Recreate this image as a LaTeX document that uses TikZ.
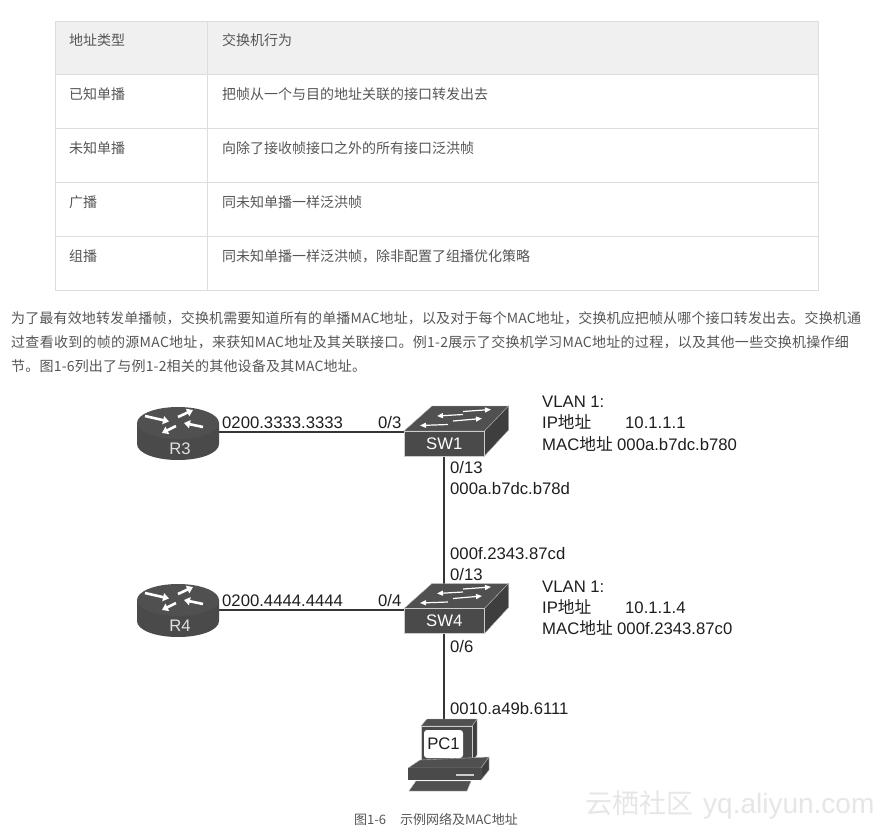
\documentclass[tikz,border=0pt]{standalone}
\usepackage{fontspec}
\setmainfont{Liberation Sans}
\newfontfamily\cjk{Noto Sans CJK SC}
\newfontfamily\cjka[LetterSpace=1.0]{Noto Sans CJK SC}
\newfontfamily\cjkb[LetterSpace=2.0]{Noto Sans CJK SC}
\newfontfamily\cjkc[LetterSpace=1.4]{Noto Sans CJK SC}
\usetikzlibrary{arrows.meta,backgrounds}
\definecolor{devdark}{HTML}{4A4A4A}
\definecolor{devtop}{HTML}{505050}
\definecolor{devside}{HTML}{3E3E3E}
\definecolor{bodytext}{HTML}{555555}
\definecolor{rulegray}{HTML}{DDDDDD}
\definecolor{headfill}{HTML}{F0F0F0}
\definecolor{ink}{HTML}{1E1E1E}
\definecolor{markgray}{HTML}{E6E6E6}
\tikzset{
  cell/.style={anchor=base west,inner sep=0pt,text=bodytext,font=\cjk\fontsize{14}{14}\selectfont},
  para/.style={anchor=base west,inner sep=0pt,text=bodytext,font=\fontsize{14}{14}\selectfont},
  capt/.style={anchor=base west,inner sep=0pt,text=bodytext,font=\cjk\fontsize{13}{13}\selectfont},
  lbl/.style={anchor=base west,inner sep=0pt,text=ink,font=\fontsize{16.7}{17}\selectfont},
  link/.style={line width=2pt,draw=ink!90},
  swfront/.style={fill=devdark,draw=white!80!black,line width=.4pt,inner sep=0pt,minimum width=80.5pt,minimum height=25pt,text=white,font=\fontsize{16.7}{17}\selectfont},
  swtop/.style={fill=devtop,draw=white!70!black,line width=.4pt},
  swside/.style={fill=devside,draw=white!70!black,line width=.4pt},
  swarrow/.style={draw=white,line width=1.2pt,-{Triangle[length=6pt,width=5pt]}},
  rtarrow/.style={draw=white,line width=2.6pt,-{Triangle[length=6pt,width=8pt]}},
  rtanchor/.style={inner sep=0pt,minimum width=82pt,minimum height=50pt},
  rtlabel/.style={inner sep=0pt,text=white!88!black,font=\fontsize{16.7}{17}\selectfont},
  pcbox/.style={inner sep=0pt,minimum width=39pt,minimum height=28pt,rounded corners=3pt,fill=white,text=ink,font=\fontsize{16.7}{17}\selectfont},
}
\newcommand{\routerbody}{%
  \fill[devdark] (137,423) -- (137,444) .. controls (137,453) and (155,460) .. (178,460) .. controls (201,460) and (219,453) .. (219,444) -- (219,423) -- cycle;
  \fill[devtop] (178,423) ellipse[x radius=41,y radius=16];
  \draw[rtarrow] (145,416) -- (169,421.5);
  \draw[rtarrow] (178,417) -- (193,410);
  \draw[rtarrow] (203,427) -- (184,423);
  \draw[rtarrow] (176,426) -- (162,433);
}
\newcommand{\switchbody}{%
  \path[swtop] (404,431) -- (432,406) -- (508.5,406) -- (484.5,431) -- cycle;
  \path[swside] (484.5,431) -- (508.5,406) -- (508.5,430) -- (484.5,456) -- cycle;
  \draw[swarrow] (463,411.5) -- (491,409.5);
  \draw[swarrow] (463,414.5) -- (437,416);
  \draw[swarrow] (453,421) -- (482,418.5);
  \draw[swarrow] (448,424.5) -- (420,425.5);
}
\begin{document}
\begin{tikzpicture}[x=1pt,y=-1pt]
\useasboundingbox (0,0) rectangle (886,830);
% table
\fill[headfill] (55,21) rectangle (818,74);
\draw[rulegray,line width=1pt] (55,21) rectangle (818,290);
\foreach \yy in {74,128,182,236} \draw[rulegray,line width=1pt] (55,\yy) -- (818,\yy);
\draw[rulegray,line width=1pt] (207,21) -- (207,290);
\node[cell] (h1) at (69,45) {地址类型};
\node[cell] (h2) at (222,45) {交换机行为};
\node[cell] (a1) at (69,99) {已知单播};
\node[cell] (b1) at (222,99) {把帧从一个与目的地址关联的接口转发出去};
\node[cell] (a2) at (69,153) {未知单播};
\node[cell] (b2) at (222,153) {向除了接收帧接口之外的所有接口泛洪帧};
\node[cell] (a3) at (69,207) {广播};
\node[cell] (b3) at (222,207) {同未知单播一样泛洪帧};
\node[cell] (a4) at (69,261) {组播};
\node[cell] (b4) at (222,261) {同未知单播一样泛洪帧，除非配置了组播优化策略};
% paragraph
\node[para] (p1) at (11,323) {\cjka 为了最有效地转发单播帧，交换机需要知道所有的单播MAC地址，以及对于每个MAC地址，交换机应把帧从哪个接口转发出去。交换机通};
\node[para] (p2) at (11,347) {\cjkb 过查看收到的帧的源MAC地址，来获知MAC地址及其关联接口。例1-2展示了交换机学习MAC地址的过程，以及其他一些交换机操作细};
\node[para] (p3) at (11,371) {\cjkc 节。图1-6列出了与例1-2相关的其他设备及其MAC地址。};
% routers
\routerbody
\node[rtanchor] (R3) at (178,432) {};
\node[rtlabel] (R3t) at (180,449) {R3};
\begin{scope}[yshift=-177pt]
\routerbody
\node[rtanchor] (R4) at (178,433) {};
\node[rtlabel] (R4t) at (180,449) {R4};
\end{scope}
% switches
\switchbody
\node[swfront] (SW1) at (444.25,443.5) {SW1};
\begin{scope}[yshift=-177.5pt]
\switchbody
\node[swfront] (SW4) at (444.25,443.5) {SW4};
\end{scope}
% PC
\path[swside] (472,726) -- (477,719) -- (477,755) -- (472,762) -- cycle;
\path[swtop] (421,726) -- (427,719) -- (477,719) -- (472,726) -- cycle;
\node[fill=devdark,draw=white!80!black,line width=.4pt,inner sep=0pt,minimum width=51pt,minimum height=36pt] (PCm) at (446.5,744) {};
\node[pcbox] (PC1) at (443.5,744) {PC1};
\path[swtop] (408,768) -- (420,760) -- (489,757) -- (481,768) -- cycle;
\path[swside] (481,768) -- (489,757) -- (489,770) -- (481,780) -- cycle;
\fill[devdark] (408,768) rectangle (481,780);
\fill[white!80!black] (456,774) rectangle (474,776);
\path[swtop] (409,791) -- (416,781) -- (471,781) -- (467,791) -- cycle;
\coordinate (PCt) at (444.25,719);
% connectors
\begin{scope}[on background layer]
\draw[link] (R3.east) -- (R3.east -| SW1.west);
\draw[link] (R4.east) -- (R4.east -| SW4.west);
\draw[link] (SW1.south) -- (SW4.north);
\draw[link] (SW4.south) -- (PCt);
\end{scope}
% labels
\node[lbl] (l1) at (222,428) {0200.3333.3333};
\node[lbl] (l2) at (378,428) {0/3};
\node[lbl] (l3) at (450,473) {0/13};
\node[lbl] (l4) at (450,494) {000a.b7dc.b78d};
\node[lbl] (l5) at (450,559) {000f.2343.87cd};
\node[lbl] (l6) at (450,580) {0/13};
\node[lbl] (l7) at (222,606) {0200.4444.4444};
\node[lbl] (l8) at (378,606) {0/4};
\node[lbl] (l9) at (450,652) {0/6};
\node[lbl] (l10) at (450,714) {0010.a49b.6111};
\node[lbl] (v1) at (542,407) {VLAN 1:};
\node[lbl] (v2) at (542,428) {IP{\cjk 地址}};
\node[lbl] (v3) at (625,428) {10.1.1.1};
\node[lbl] (v4) at (542,450) {MAC{\cjk 地址}};
\node[lbl] (v5) at (617,450) {000a.b7dc.b780};
\node[lbl] (w1) at (542,592) {VLAN 1:};
\node[lbl] (w2) at (542,613) {IP{\cjk 地址}};
\node[lbl] (w3) at (625,613) {10.1.1.4};
\node[lbl] (w4) at (542,634) {MAC{\cjk 地址}};
\node[lbl] (w5) at (617,634) {000f.2343.87c0};
% caption and watermark
\node[capt] (cap) at (354,824) {图1-6\hspace{14pt}示例网络及MAC地址};
\node[anchor=base west,inner sep=0pt,text=markgray,font=\cjk\fontsize{27}{27}\selectfont] (wm1) at (585,813) {云栖社区};
\node[anchor=base west,inner sep=0pt,text=markgray,font=\fontsize{28}{28}\selectfont] (wm2) at (703,813) {yq.aliyun.com};
\end{tikzpicture}
\end{document}
